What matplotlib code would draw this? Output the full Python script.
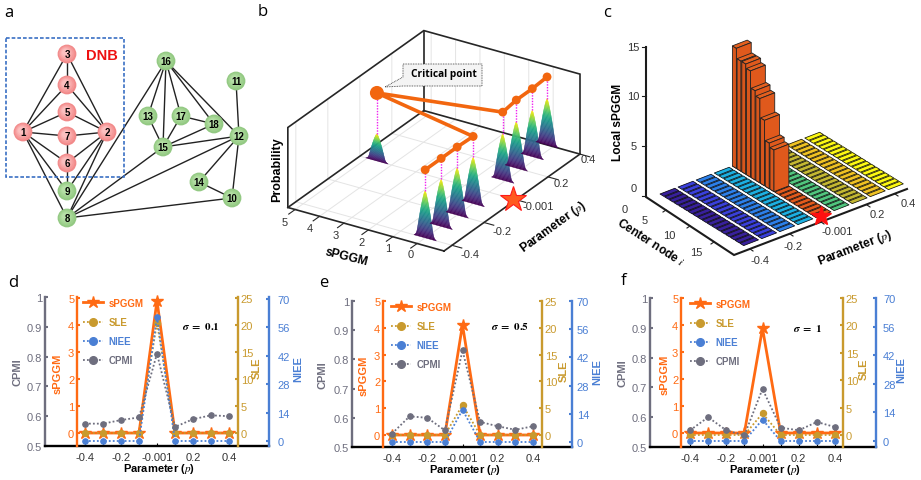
import numpy as np
import matplotlib
matplotlib.use('Agg')
import matplotlib.pyplot as plt
from matplotlib.collections import PolyCollection
from matplotlib.lines import Line2D
from matplotlib.patches import Circle, Polygon, Rectangle

plt.rcParams['font.family'] = ['Liberation Sans', 'DejaVu Sans']
plt.rcParams['mathtext.fontset'] = 'stix'

W, H = 921, 481

# panel a
node_names = ['1', '2', '3', '4', '5', '6', '7', '8', '9', '10', '11', '12', '13', '14', '15', '16', '17', '18']
node_x = [23, 107, 67, 67, 67, 67, 67, 67, 67, 232, 236, 239, 148, 199, 163, 166, 181, 214]
node_y = [133, 133, 55, 86, 113, 164, 137, 219, 192, 199, 82, 137, 117, 183, 148, 62, 117, 125]
dnb_nodes = ['1', '2', '3', '4', '5', '6', '7']
edges = [(1, 3), (1, 4), (1, 5), (1, 7), (1, 6), (1, 9), (1, 8), (2, 3), (2, 4), (2, 5), (2, 7), (2, 6), (2, 9), (2, 8),
         (3, 4), (7, 6), (6, 9), (16, 13), (16, 15), (16, 17), (16, 18), (16, 12), (16, 8), (13, 15), (17, 15),
         (17, 18), (18, 15), (15, 12), (15, 8), (12, 8), (12, 11), (12, 14), (12, 10), (14, 10), (10, 8)]

# panels d, e, f
p_labels = ['-0.4', '', '-0.2', '', '-0.001', '', '0.2', '', '0.4']
spggm_d = [0, 0, 0, 0, 4.9, 0, 0, 0, 0]
sle_d = [0, 0, 0, 0, 20.4, 0, 0, 0, 0]
niee_d = [0, 0, 0, 0, 61, 0, 0, 0, 0]
cpmi_d = [0.575, 0.575, 0.587, 0.596, 0.81, 0.564, 0.59, 0.603, 0.60]
spggm_e = [0, 0, 0, 0, 4.11, 0, 0, 0, 0]
sle_e = [0, 0, 0, 0, 5.6, 0, 0, 0, 0]
niee_e = [0, 0, 0, 0, 16, 0, 0, 0, 0]
cpmi_e = [0.546, 0.605, 0.60, 0.557, 0.831, 0.586, 0.571, 0.559, 0.571]
spggm_f = [0, 0, 0, 0, 3.88, 0, 0, 0, 0]
sle_f = [0, 0, 0, 0, 3.95, 0, 0, 0, 0]
niee_f = [0, 0, 0, 0, 10.5, 0, 0, 0, 0]
cpmi_f = [0.556, 0.60, 0.556, 0.539, 0.695, 0.565, 0.556, 0.584, 0.567]

# panel b
b_rows = [0, 1, 2, 3, 4, 5, 6, 7, 8]
b_centers = [0, 0, 0, 0, 4.6, 0.1, 0.2, 0.2, 0.25]
b_peaks = [0.59, 0.59, 0.59, 0.58, 0.34, 0.58, 0.58, 0.58, 0.58]
b_dots = [0.85, 0.85, 0.85, 0.84, 0.85, 0.85, 0.85, 0.85, 0.85]

# panel c
c_rows = 9
c_nodes = 18
c_heights = [12.1, 11.1, 11.1, 10.7, 9.0, 8.5, 6.6, 4.6, 4.2]
c_colors = ['#38209c', '#3a40dc', '#2c80ea', '#1cb0e2', '#e35a1c', '#50c67e', '#c4b832', '#f0c222', '#fdf912']

ORANGE = '#ff6a13'
GOLD = '#c99a2e'
BLUE = '#4a7fd4'
GREY = '#6e6e7e'

fig = plt.figure(figsize=(W / 100, H / 100), dpi=100)
pix = fig.add_axes([0, 0, 1, 1])
pix.set_xlim(0, W)
pix.set_ylim(H, 0)
pix.axis('off')


def panelA():
    pos = {n: (x, y) for n, x, y in zip(node_names, node_x, node_y)}
    for a, b in edges:
        pa, pb = pos[str(a)], pos[str(b)]
        pix.plot([pa[0], pb[0]], [pa[1], pb[1]], color='#222222', lw=1.0, zorder=2)
    pix.add_patch(Rectangle((5.7, 39), 118.3, 139, fill=False, ec='#3a6fc4', lw=1.2, ls=(0, (2.2, 1.2)), zorder=3))
    pix.text(102, 56, 'DNB', color='#ee1111', fontsize=10.5, fontweight='bold', ha='center', va='center')
    for n in node_names:
        x, y = pos[n]
        if n in dnb_nodes:
            shades = ['#f28a8a', '#f59898', '#f8a6a6', '#fab4b4', '#fcc0c0']
        else:
            shades = ['#93c983', '#9dd08c', '#a6d696', '#afdc9f', '#b7e0a8']
        for k, c in enumerate(shades):
            pix.add_patch(Circle((x - k * 0.4, y - k * 0.4), 9.4 - k * 1.5, fc=c, ec='none', zorder=4))
        pix.text(x, y, n, fontsize=7, fontweight='bold', ha='center', va='center', zorder=5)


def projB(s, i, z=0):
    x = 444 + (s + 1.1) * -24.4 + (i + 0.5) * 16
    y = 252 + (s + 1.1) * -6.8 + (i + 0.5) * -11.4 - z * 80
    return x, y


def bellWidth(level):
    # half width of a bell, in sPGGM units, at a fraction of its height
    return 0.36 * (1 - level) ** 0.75 + 0.1 * np.exp(-level / 0.035)


def panelB():
    smin, smax, imin, imax = -1.1, 5.3, -0.5, 8
    # grid
    for s in range(0, 6):
        a, b, c = projB(s, imin), projB(s, imax), projB(s, imax, 1)
        pix.plot([a[0], b[0], c[0]], [a[1], b[1], c[1]], color='#e4e4e4', lw=0.7, zorder=1)
    for i in [0, 2, 4, 6, 8]:
        a, b, c = projB(smin, i), projB(smax, i), projB(smax, i, 1)
        pix.plot([a[0], b[0], c[0]], [a[1], b[1], c[1]], color='#e4e4e4', lw=0.7, zorder=1)
    # box
    frame = [[(smin, imin, 0), (smax, imin, 0), (smax, imin, 1), (smax, imax, 1), (smin, imax, 1), (smin, imax, 0), (smin, imin, 0)],
             [(smax, imin, 0), (smax, imax, 0), (smin, imax, 0)],
             [(smax, imax, 0), (smax, imax, 1)]]
    for part in frame:
        pts = [projB(*q) for q in part]
        pix.plot([q[0] for q in pts], [q[1] for q in pts], color='#262626', lw=1.2, zorder=2, solid_joinstyle='miter')
    # ticks
    for s in range(0, 6):
        a, b = projB(s, imin), projB(s, imin - 0.4)
        pix.plot([a[0], b[0]], [a[1], b[1]], color='#262626', lw=0.8, zorder=2)
    for i in [0, 2, 4, 6, 8]:
        a, b = projB(smin, i), projB(smin - 0.4, i)
        pix.plot([a[0], b[0]], [a[1], b[1]], color='#262626', lw=0.8, zorder=2)
    # bells
    cmap = plt.get_cmap('viridis')
    levels = np.linspace(0, 1, 41)
    for i, c, h in zip(b_rows, b_centers, b_peaks):
        polys = []
        cols = []
        for lo, hi in zip(levels[:-1], levels[1:]):
            lo_w, hi_w = bellWidth(lo), bellWidth(hi)
            polys.append([projB(c + lo_w, i, lo * h), projB(c - lo_w, i, lo * h),
                          projB(c - hi_w, i, hi * h), projB(c + hi_w, i, hi * h)])
            cols.append(cmap(lo * 1.02))
        pix.add_collection(PolyCollection(polys, facecolors=cols, edgecolors=cols, linewidths=0.3, zorder=4))
    # stems and top line
    tops = [projB(c, i, h) for i, c, h in zip(b_rows, b_centers, b_peaks)]
    dots = [projB(c, i, d) for i, c, d in zip(b_rows, b_centers, b_dots)]
    for t, d in zip(tops, dots):
        pix.plot([t[0], d[0]], [t[1], d[1]], color='#f020f0', lw=1.0, ls=(0, (1, 1)), zorder=5)
    pix.plot([q[0] for q in dots], [q[1] for q in dots], color='#f2660f', lw=2.6, zorder=6)
    for k, d in enumerate(dots):
        pix.add_patch(Circle(d, 7 if k == 4 else 4.4, fc='#f2660f', ec='none', zorder=7))
    # star
    st = projB(-1.1, 4)
    pix.plot(st[0] - 3, st[1] - 1, marker='*', ms=19, mfc='#ff5a1f', mec='#ff1a1a', mew=0.8, zorder=8)
    # callout
    pix.add_patch(Polygon([(403, 65), (482, 65), (482, 87), (403, 87), (385, 88), (403, 78)], closed=True,
                          fc='#f4f4f4', ec='#333333', lw=0.6, ls=(0, (1, 1)), zorder=8))
    pix.text(444, 74, 'Critical point', fontsize=7.3, fontweight='bold', family=['Open Sans'], ha='center', va='center', zorder=9)
    # labels
    for t, x, y in [('5', 285, 223), ('4', 310, 229), ('3', 336, 236), ('2', 362, 243), ('1', 388, 249), ('0', 411, 255),
                    ('0.4', 588, 160), ('0.2', 561, 184), ('-0.001', 538, 207), ('-0.2', 502, 232), ('-0.4', 470, 255)]:
        pix.text(x, y, t, fontsize=8, color='#333333', ha='center', va='center')
    pix.text(347, 257, 'sPGGM', fontsize=8.7, fontweight='bold', rotation=-14, ha='center', va='center')
    pix.text(277, 170, 'Probability', fontsize=9, fontweight='bold', rotation=90, ha='center', va='center')
    pix.text(553, 227, r'Parameter ($\mathit{p}$)', fontsize=8.8, fontweight='bold', rotation=36, ha='center', va='center')


def projC(row, node, z=0):
    x = 660 + row * 18.1 + node * 4.7
    y = 195 - row * 7.0 + node * 2.9 - z * 9.93
    return x, y


def panelC():
    # axes
    pix.plot([646, 646, 734, 907], [48, 198, 256, 190], color='#1c1c1c', lw=1.5, zorder=2, solid_joinstyle='miter')
    for y in [48, 97, 147, 197]:
        pix.plot([646, 642], [y, y], color='#1c1c1c', lw=0.8)
    for x, y in [(666, 211), (690, 227), (714, 243)]:
        pix.plot([x, x - 3], [y, y + 2], color='#1c1c1c', lw=0.8)
    for x, y in [(750, 250), (790, 235), (821, 223), (867, 206), (895, 195)]:
        pix.plot([x, x + 3], [y, y + 2], color='#1c1c1c', lw=0.8)
    # floor cells
    for r in range(c_rows):
        cells = []
        for n in range(c_nodes):
            cells.append([projC(r, n), projC(r + 0.82, n), projC(r + 0.82, n + 0.8), projC(r, n + 0.8)])
        # colour strip under the cells
        strip = [projC(r, 0), projC(r + 0.82, 0), projC(r + 0.82, c_nodes - 0.2), projC(r, c_nodes - 0.2)]
        pix.add_patch(Polygon(strip, fc=c_colors[r], ec='none', zorder=3))
        pix.add_collection(PolyCollection(cells, facecolors=c_colors[r], edgecolors='#151515', linewidths=0.55, zorder=3))
    # tall bars of the critical row
    r = 4
    for n, h in enumerate(c_heights):
        e = 0.85
        side = [projC(r, n), projC(r, n + e), projC(r, n + e, h), projC(r, n, h)]
        front = [projC(r, n + e), projC(r + 0.82, n + e), projC(r + 0.82, n + e, h), projC(r, n + e, h)]
        top = [projC(r, n, h), projC(r + 0.82, n, h), projC(r + 0.82, n + e, h), projC(r, n + e, h)]
        for face, c in [(side, '#d8561c'), (top, '#e4601f'), (front, '#e0591c')]:
            pix.add_patch(Polygon(face, fc=c, ec='#222222', lw=0.6, zorder=4 + n * 0.01))
    pix.plot(821, 217, marker='*', ms=15, mfc='#ff1010', mec='#ff1010', zorder=6)
    for t, x, y in [('15', 633, 48), ('10', 633, 97), ('5', 634, 147), ('0', 634, 189),
                    ('0', 625, 210), ('5', 645, 221), ('10', 669, 236), ('15', 696, 253),
                    ('0.4', 908, 204), ('0.2', 877, 215), ('-0.001', 837, 232), ('-0.2', 793, 247), ('-0.4', 760, 261)]:
        pix.text(x, y, t, fontsize=8, color='#333333', ha='center', va='center')
    pix.text(618, 122, 'Local sPGGM', fontsize=8.6, fontweight='bold', rotation=90, ha='center', va='center')
    pix.text(651, 243, r'Center node $\mathit{i}$', fontsize=8.6, fontweight='bold', rotation=-33, ha='center', va='center')
    pix.text(855, 248, r'Parameter ($\mathit{p}$)', fontsize=8.8, fontweight='bold', rotation=21, ha='center', va='center')


def rangeFrom(ytop, ybot, val_a, y_a, val_b, y_b):
    # limits of an axis whose values val_a and val_b sit at pixels y_a and y_b
    scale = (val_a - val_b) / (y_b - y_a)
    return val_b - (ybot - y_b) * scale, val_a + (y_a - ytop) * scale


def scanPanel(spggm, sle, niee, cpmi, x0, x1, ytop, ybot, xfirst, xlast, xs, xg, sig, y5, y0, yg0, yn70, yn0, leg, lx, sx, sy, npad):
    rect = [x0 / W, 1 - ybot / H, (x1 - x0) / W, (ybot - ytop) / H]
    ax = fig.add_axes(rect)
    ax.patch.set_alpha(0)
    r = np.arange(9)
    step = (xlast - xfirst) / 8
    ax.set_xlim(-(xfirst - x0) / step, 8 + (x1 - xlast) / step)
    ax.set_ylim(0.5, 1)
    ax.set_yticks([0.5, 0.6, 0.7, 0.8, 0.9, 1], ['0.5', '0.6', '0.7', '0.8', '0.9', '1'])
    ax.set_xticks(r, p_labels)
    ax.tick_params(axis='x', direction='in', length=2, width=0.8, labelsize=8, pad=4, labelcolor='#333333')
    ax.tick_params(axis='y', direction='in', length=2, width=1.5, color=GREY, labelsize=8, labelcolor=GREY, pad=2)
    for name in ['top', 'right']:
        ax.spines[name].set_visible(False)
    ax.spines['left'].set_color(GREY)
    ax.spines['left'].set_linewidth(1.7)
    ax.spines['bottom'].set_linewidth(1.7)

    a1 = ax.twinx()
    a1.patch.set_alpha(0)
    a1.set_ylim(*rangeFrom(ytop, ybot, 5, y5, 0, y0))
    a1.set_yticks(range(6))
    a1.yaxis.tick_left()
    a1.tick_params(axis='y', direction='in', length=2, width=1.5, color=ORANGE, labelsize=8, labelcolor=ORANGE, pad=2)
    for name in ['top', 'right', 'bottom']:
        a1.spines[name].set_visible(False)
    a1.spines['left'].set_visible(True)
    a1.spines['left'].set_position(('axes', (xs - x0) / (x1 - x0)))
    a1.spines['left'].set_color(ORANGE)
    a1.spines['left'].set_linewidth(1.7)

    a2 = ax.twinx()
    a2.patch.set_alpha(0)
    a2.set_ylim(*rangeFrom(ytop, ybot, 25, y5, 0, yg0))
    a2.set_yticks(range(0, 26, 5))
    a2.tick_params(axis='y', direction='in', length=2, width=1.5, color=GOLD, labelsize=8, labelcolor=GOLD, pad=2)
    for name in ['top', 'left', 'bottom']:
        a2.spines[name].set_visible(False)
    a2.spines['right'].set_position(('axes', (xg - x0) / (x1 - x0)))
    a2.spines['right'].set_color(GOLD)
    a2.spines['right'].set_linewidth(1.7)

    a3 = ax.twinx()
    a3.patch.set_alpha(0)
    a3.set_ylim(*rangeFrom(ytop, ybot, 70, yn70, 0, yn0))
    a3.set_yticks(range(0, 71, 14))
    a3.tick_params(axis='y', direction='in', length=2, width=1.5, color=BLUE, labelsize=8, labelcolor=BLUE, pad=npad)
    for name in ['top', 'left', 'bottom']:
        a3.spines[name].set_visible(False)
    a3.spines['right'].set_color(BLUE)
    a3.spines['right'].set_linewidth(1.7)

    a1.plot(r, spggm, color=ORANGE, lw=2.0, marker='*', ms=9, mec=ORANGE, mfc=ORANGE, clip_on=False)
    a3.plot(r, niee, color=BLUE, lw=1.3, ls=(0, (1, 1.2)), marker='o', ms=3.8, clip_on=False)
    a2.plot(r, sle, color=GOLD, lw=1.3, ls=(0, (1, 1.2)), marker='o', ms=4.3, clip_on=False)
    a4 = ax.twinx()
    a4.patch.set_alpha(0)
    a4.axis('off')
    a4.set_ylim(0.5, 1)
    a4.plot(r, cpmi, color=GREY, lw=1.3, ls=(0, (1, 1.2)), marker='o', ms=3.8, clip_on=False)

    handles = [Line2D([], [], color=ORANGE, lw=2.0, marker='*', ms=9),
               Line2D([], [], color=GOLD, lw=1.3, ls=(0, (1, 1.2)), marker='o', ms=5.5),
               Line2D([], [], color=BLUE, lw=1.3, ls=(0, (1, 1.2)), marker='o', ms=5.5),
               Line2D([], [], color=GREY, lw=1.3, ls=(0, (1, 1.2)), marker='o', ms=5.5)]
    a4.legend(handles, ['sPGGM', 'SLE', 'NIEE', 'CPMI'], loc='upper left', bbox_to_anchor=((leg - x0) / (x1 - x0), 0.995),
              frameon=False, labelcolor='linecolor', prop={'weight': 'bold', 'size': 7}, handlelength=2.1,
              handletextpad=0.55, labelspacing=0.95, borderpad=0, borderaxespad=0, numpoints=1)
    a4.text((sx - x0) / (x1 - x0), (ybot - sy) / (ybot - ytop), r'$\mathbfit{\sigma}\ \mathbf{=\ %s}$' % sig, transform=a4.transAxes,
            fontsize=8, ha='center', va='center')
    pix.text(lx[0], (ytop + ybot) / 2 - 0, 'CPMI', color=GREY, fontsize=8, fontweight='bold', rotation=90, ha='center', va='center')
    pix.text(lx[1], (ytop + ybot) / 2 + 1, 'sPGGM', color=ORANGE, fontsize=8, fontweight='bold', rotation=90, ha='center', va='center')
    pix.text(lx[2], (ytop + ybot) / 2 - 4, 'SLE', color=GOLD, fontsize=8, fontweight='bold', rotation=90, ha='center', va='center')
    pix.text(lx[3], (ytop + ybot) / 2 - 3, 'NIEE', color=BLUE, fontsize=8, fontweight='bold', rotation=90, ha='center', va='center')
    pix.text((xfirst + xlast) / 2 + 2, ybot + 22, r'Parameter ($\mathit{p}$)', fontsize=8, fontweight='bold', ha='center', va='center')


panelA()
panelB()
panelC()
scanPanel(spggm_d, sle_d, niee_d, cpmi_d, 45, 269, 298, 447, 85, 229, 77, 238, '0.1', 299, 434, 434, 300, 442, 83, (17, 58, 257, 298), 201, 327, 6)
scanPanel(spggm_e, sle_e, niee_e, cpmi_e, 352, 572, 302, 448, 392, 533, 383, 542, '0.5', 302, 436, 436, 302, 443, 391, (322, 364, 564, 597), 510, 326, 3.5)
scanPanel(spggm_f, sle_f, niee_f, cpmi_f, 650, 876, 299, 448, 690, 835, 681, 843, '1', 299, 434, 436, 299, 442, 690, (622, 665, 864, 901), 808, 328, 5)

for t, x, y in [('a', 9, 13), ('b', 263, 12), ('c', 607, 13), ('d', 13, 283), ('e', 324, 283), ('f', 624, 281)]:
    pix.text(x, y, t, fontsize=12, family=['Open Sans'], ha='center', va='center')

plt.savefig('out.png', dpi=100)
